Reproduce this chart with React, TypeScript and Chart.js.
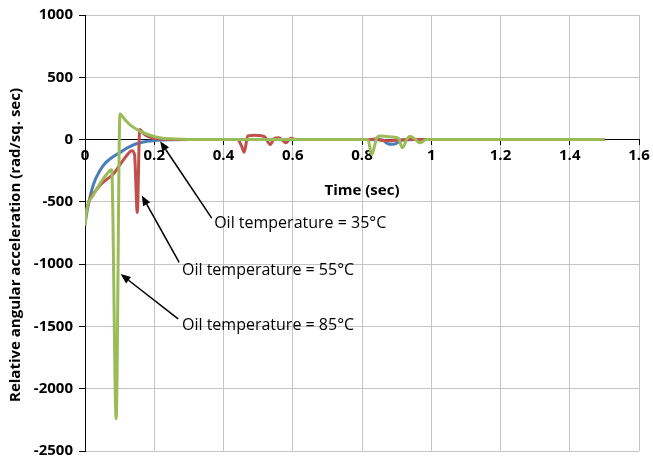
import { useEffect, useRef } from "react";
import { Chart, registerables } from "chart.js";

Chart.register(...registerables);

const FONT = "'Open Sans', Lato, sans-serif";

// Oil temperature = 35 °C
const t35 = [0, 0.005, 0.01, 0.02, 0.03, 0.04, 0.05, 0.06, 0.08, 0.1, 0.12, 0.14, 0.16, 0.18, 0.2, 0.22, 0.25, 0.3, 0.4, 0.8, 0.86, 0.87, 0.88, 0.89, 0.9, 0.91, 0.95, 1.0, 1.5];
const a35 = [-680, -590, -520, -400, -320, -265, -220, -185, -140, -105, -70, -42, -25, -14, -7, -3, -1, 0, 0, 0, -3, -25, -38, -38, -30, -5, 0, 0, 0];

// Oil temperature = 55 °C
const t55 = [0, 0.005, 0.012, 0.02, 0.03, 0.043, 0.06, 0.082, 0.1, 0.12, 0.135, 0.143, 0.151, 0.158, 0.17, 0.18, 0.2, 0.23, 0.27, 0.44, 0.452, 0.46, 0.47, 0.49, 0.51, 0.52, 0.535, 0.547, 0.56, 0.57, 0.58, 0.595, 0.61, 0.82, 0.84, 0.86, 0.88, 0.9, 0.95, 1.0, 1.5];
const a55 = [-600, -560, -490, -447, -415, -368, -325, -276, -205, -130, -90, -120, -585, 80, 45, 28, 10, 3, 0, 0, -50, -102, 30, 35, 30, 20, -40, 10, 15, -5, -25, 10, 0, 0, 5, -8, -10, -5, 0, 0, 0];

// Oil temperature = 85 °C
const t85 = [0, 0.005, 0.024, 0.043, 0.063, 0.077, 0.09, 0.101, 0.115, 0.13, 0.16, 0.19, 0.22, 0.25, 0.3, 0.35, 0.81, 0.817, 0.828, 0.843, 0.852, 0.87, 0.89, 0.905, 0.917, 0.93, 0.939, 0.955, 0.966, 0.987, 1.5];
const a85 = [-690, -565, -446, -355, -276, -242, -2240, 205, 160, 118, 66, 33, 13, 6, 1, 0, 0, 0, -119, 15, 28, 25, 20, 10, -66, 5, 26, 0, -26, 0, 0];

const xTickLabels = ["0", "0.2", "0.4", "0.6", "0.8", "1", "1.2", "1.4", "1.6"];
const yTickLabels = ["-2500", "-2000", "-1500", "-1000", "-500", "0", "500", "1000"];

const seriesNames = ["35", "55", "85"];
const seriesColors = ["#4a7ebb", "#c0504d", "#9bbb59"];

// Callout labels: text anchor (t, value), arrow tail and arrow tip (t, value)
const noteTexts = ["Oil temperature = 35°C", "Oil temperature = 55°C", "Oil temperature = 85°C"];
const noteTextAt = [[0.373, -672], [0.28, -1050], [0.28, -1495]];
const noteTailAt = [[0.366, -631], [0.272, -985], [0.269, -1440]];
const noteTipAt = [[0.217, -13], [0.164, -449], [0.103, -1080]];

const toPoints = (ts: number[], vs: number[]) => ts.map((t, i) => ({ x: t, y: vs[i] }));

const calloutPlugin = {
  id: "callouts",
  afterDatasetsDraw(chart: any) {
    const { ctx, scales } = chart;
    const xs = scales.x;
    const ys = scales.y;
    ctx.save();
    noteTexts.forEach((text, i) => {
      const tx = xs.getPixelForValue(noteTailAt[i][0]);
      const ty = ys.getPixelForValue(noteTailAt[i][1]);
      const hx = xs.getPixelForValue(noteTipAt[i][0]);
      const hy = ys.getPixelForValue(noteTipAt[i][1]);
      const ang = Math.atan2(hy - ty, hx - tx);
      const headLen = 10;
      const headW = 4;
      const bx = hx - headLen * Math.cos(ang);
      const by = hy - headLen * Math.sin(ang);
      ctx.strokeStyle = "#000";
      ctx.fillStyle = "#000";
      ctx.lineWidth = 1.5;
      ctx.beginPath();
      ctx.moveTo(tx, ty);
      ctx.lineTo(bx, by);
      ctx.stroke();
      ctx.beginPath();
      ctx.moveTo(hx, hy);
      ctx.lineTo(bx + headW * Math.sin(ang), by - headW * Math.cos(ang));
      ctx.lineTo(bx - headW * Math.sin(ang), by + headW * Math.cos(ang));
      ctx.closePath();
      ctx.fill();

      ctx.font = `16px ${FONT}`;
      ctx.textAlign = "left";
      ctx.textBaseline = "middle";
      ctx.fillText(text, xs.getPixelForValue(noteTextAt[i][0]), ys.getPixelForValue(noteTextAt[i][1]));
    });

    // axis titles
    const area = chart.chartArea;
    ctx.fillStyle = "#000";
    ctx.font = `bold 15px ${FONT}`;
    ctx.textAlign = "center";
    ctx.textBaseline = "middle";
    ctx.fillText("Time (sec)", (area.left + area.right) / 2, ys.getPixelForValue(0) + 51);
    ctx.translate(16, (area.top + area.bottom) / 2 + 12);
    ctx.rotate(-Math.PI / 2);
    ctx.fillText("Relative angular acceleration (rad/sq. sec)", 0, 0);
    ctx.restore();
  },
};

export default function App() {
  const ref = useRef<HTMLCanvasElement>(null);

  useEffect(() => {
    if (!ref.current) return;
    const chart = new Chart(ref.current, {
      type: "line",
      data: {
        datasets: [
          { label: seriesNames[0], data: toPoints(t35, a35) },
          { label: seriesNames[1], data: toPoints(t55, a55) },
          { label: seriesNames[2], data: toPoints(t85, a85) },
        ].map((d, i) => ({
          ...d,
          borderColor: seriesColors[i],
          backgroundColor: seriesColors[i],
          borderWidth: 3,
          pointRadius: 0,
          fill: false,
          cubicInterpolationMode: "monotone" as const,
          order: 3 - i,
        })),
      },
      options: {
        animation: false,
        responsive: false,
        layout: { padding: { top: 14, right: 14, bottom: 10, left: 0 } },
        plugins: {
          legend: { display: false },
          tooltip: { enabled: false },
        },
        scales: {
          x: {
            type: "linear",
            min: 0,
            max: 1.6,
            position: { y: 0 } as any,
            ticks: {
              stepSize: 0.2,
              color: "#000",
              font: { family: FONT, size: 15, weight: "bold" },
              padding: 2,
              maxRotation: 0,
              callback: (_v: any, i: number) => xTickLabels[i],
            },
            grid: { color: "#c4c4c4", lineWidth: 1, tickLength: 5, tickColor: "#000" },
            border: { color: "#000", width: 1 },
          },
          y: {
            type: "linear",
            min: -2500,
            max: 1000,
            position: "left",
            afterFit: (scale: any) => {
              scale.width = 85;
            },
            ticks: {
              stepSize: 500,
              color: "#000",
              font: { family: FONT, size: 15, weight: "bold" },
              padding: 6,
              callback: (_v: any, i: number) => yTickLabels[i],
            },
            grid: { color: "#c4c4c4", lineWidth: 1, tickLength: 6, tickColor: "#000" },
            border: { color: "#000", width: 1 },
          },
        },
      },
      plugins: [calloutPlugin],
    });
    return () => chart.destroy();
  }, []);

  return (
    <div style={{ position: "absolute", left: 0, top: 0, width: 653, height: 466, background: "#fff" }}>
      <canvas ref={ref} width={653} height={466} />
    </div>
  );
}
